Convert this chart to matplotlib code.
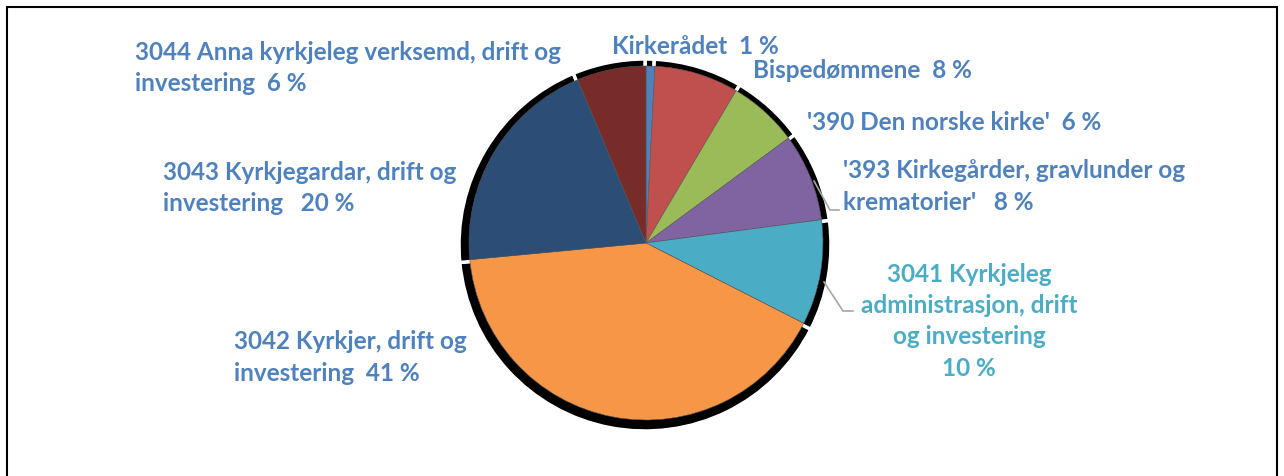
import matplotlib
matplotlib.use("Agg")
import matplotlib.pyplot as plt
from matplotlib.patches import Rectangle

# ---- data ----
categories = ["Kirkerådet", "Bispedømmene", "'390 Den norske kirke'",
              "'393 Kirkegårder, gravlunder og krematorier'",
              "3041 Kyrkjeleg administrasjon, drift og investering",
              "3042 Kyrkjer, drift og investering",
              "3043 Kyrkjegardar, drift og investering",
              "3044 Anna kyrkjeleg verksemd, drift og investering"]
values = [0.8, 7.7, 6.4, 8.0, 9.6, 41.0, 20.2, 6.3]
label_texts = ["Kirkerådet  1 %",
               "Bispedømmene  8 %",
               "'390 Den norske kirke'  6 %",
               "'393 Kirkegårder, gravlunder og\nkrematorier'   8 %",
               "3041 Kyrkjeleg\nadministrasjon, drift\nog investering\n10 %",
               "3042 Kyrkjer, drift og\ninvestering  41 %",
               "3043 Kyrkjegardar, drift og\ninvestering   20 %",
               "3044 Anna kyrkjeleg verksemd, drift og\ninvestering  6 %"]

colors = ["#4F81BD", "#C0504D", "#9BBB59", "#8064A2", "#4BACC6",
          "#F79646", "#2C4D75", "#772C2A"]
label_colors = ["#4F81BD"] * 4 + ["#4BACC6"] + ["#4F81BD"] * 3

W, H = 1284, 477
fig = plt.figure(figsize=(W / 100, H / 100), dpi=100)
ax = fig.add_axes([0, 0, 1, 1])

cx, cy, R = 646, H - 244, 177

# shadow
ax.pie(values, colors=["black"] * len(values), startangle=90, counterclock=False,
       center=(cx - 1, cy - 2), radius=R + 9,
       wedgeprops=dict(edgecolor="white", linewidth=2.5))
# main pie
ax.pie(values, colors=colors, startangle=90, counterclock=False,
       center=(cx, cy), radius=R,
       wedgeprops=dict(edgecolor="#555555", linewidth=0.4))

ax.set_xlim(0, W)
ax.set_ylim(0, H)
ax.set_aspect("equal")
ax.axis("off")

# label layout (pixel coords: x, centre of first line's capitals, alignment)
label_pos = [(612, 46, "left"), (753, 70, "left"), (807, 121, "left"),
             (843, 170, "left"), (969, 273, "center"), (234, 341, "left"),
             (163, 171, "left"), (135, 51, "left")]
line_step = 31.5
cap_half = 8.5
for txt, (x, y, ha), col in zip(label_texts, label_pos, label_colors):
    for i, line in enumerate(txt.split("\n")):
        ax.text(x, H - (y + i * line_step + cap_half), line, ha=ha, va="baseline",
                fontsize=17.5, fontweight="bold", family=["Lato", "DejaVu Sans"],
                color=col)

# leader lines
ax.plot([824, 843, 853], [H - 283, H - 312, H - 312], color="#A6A6A6", lw=1.2)
ax.plot([814, 830, 839], [H - 182, H - 211, H - 211], color="#A6A6A6", lw=1.2)

# frame
fig.patches.append(Rectangle((7, -10), 1270, H - 8 + 10, transform=None,
                             fill=False, edgecolor="black", linewidth=1.5))

fig.savefig("out.png", dpi=100)
